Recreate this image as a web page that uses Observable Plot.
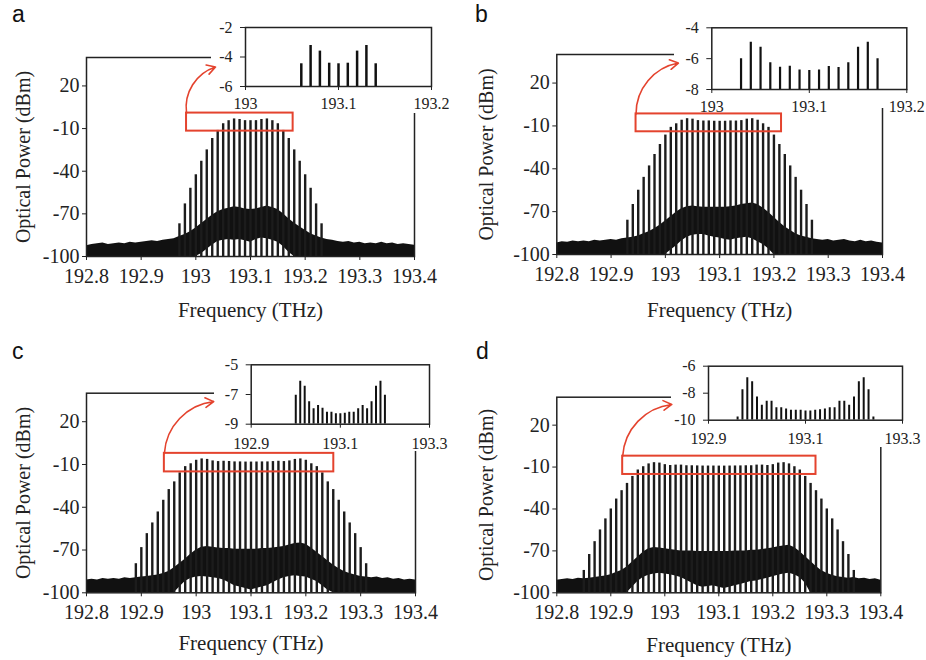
<!DOCTYPE html>
<html><head><meta charset="utf-8">
<script src="https://cdn.jsdelivr.net/npm/d3@7"></script>
<script src="https://cdn.jsdelivr.net/npm/@observablehq/plot@0.6"></script>
<style>
body{margin:0;background:#fff;}
#fig{position:relative;width:926px;height:660px;overflow:hidden;background:#fff;}
#fig svg{position:absolute;}
.lbl{position:absolute;font-family:"Liberation Sans",Arial,sans-serif;font-size:23px;line-height:26px;color:#111;}
</style></head><body><div id="fig"></div>
<script>
// ---------- shared axis data ----------
const xDomain = [192.8, 193.4];
const yDomain = [-100, 40];
const xTicks = [192.8, 192.9, 193, 193.1, 193.2, 193.3, 193.4];
const yTicks = [20, -10, -40, -70, -100];
const xTitle = "Frequency (THz)";
const yTitle = "Optical Power (dBm)";
const panelLetters = ["a", "b", "c", "d"];

const insetXDomainAB = [193, 193.2];
const insetXTicksAB = [193, 193.1, 193.2];
const insetXDomainCD = [192.9, 193.3];
const insetXTicksCD = [192.9, 193.1, 193.3];
const insetYDomainA = [-6, -2], insetYTicksA = [-2, -4, -6];
const insetYDomainB = [-8, -4], insetYTicksB = [-4, -6, -8];
const insetYDomainC = [-9, -5], insetYTicksC = [-5, -7, -9];
const insetYDomainD = [-10, -6], insetYTicksD = [-6, -8, -10];

// ---------- comb lines (frequency THz, power dBm) ----------
const combFreqA = [192.97,192.98,192.99,193.00,193.01,193.02,193.03,193.04,193.05,193.06,193.07,193.08,193.09,193.10,193.11,193.12,193.13,193.14,193.15,193.16,193.17,193.18,193.19,193.20,193.21,193.22,193.23];
const combPowA = [-77,-63,-52,-42.5,-33,-25,-17,-11.3,-6.6,-4.46,-3.22,-3.6,-4.42,-4.46,-4.42,-3.6,-3.22,-4.46,-6.6,-11.3,-17,-25,-33,-42.5,-52,-63,-77];

const combFreqB = [192.93,192.94,192.95,192.96,192.97,192.98,192.99,193.00,193.01,193.02,193.03,193.04,193.05,193.06,193.07,193.08,193.09,193.10,193.11,193.12,193.13,193.14,193.15,193.16,193.17,193.18,193.19,193.20,193.21,193.22,193.23,193.24,193.25,193.26,193.27];
const combPowB = [-76,-65,-55,-46,-38,-30,-23,-16.4,-11,-8.5,-6.01,-4.93,-5.26,-6.27,-6.56,-6.49,-6.73,-6.77,-6.73,-6.51,-6.58,-6.27,-5.26,-4.93,-6.01,-8.5,-11,-16.4,-23,-30,-38,-46,-55,-65,-76];

const combFreqC = [192.89,192.90,192.91,192.92,192.93,192.94,192.95,192.96,192.97,192.98,192.99,193.00,193.01,193.02,193.03,193.04,193.05,193.06,193.07,193.08,193.09,193.10,193.11,193.12,193.13,193.14,193.15,193.16,193.17,193.18,193.19,193.20,193.21,193.22,193.23,193.24,193.25,193.26,193.27,193.28,193.29,193.30,193.31];
const combPowC = [-79.6,-68.3,-58.5,-51,-43.3,-35.1,-27.6,-22.2,-15.9,-11.5,-9.5,-7.05,-6.10,-6.44,-7.49,-7.96,-7.74,-7.92,-8.19,-8.19,-8.30,-8.30,-8.26,-8.19,-8.19,-7.96,-7.74,-7.96,-7.49,-6.44,-6.10,-7.05,-9.5,-11.5,-15.9,-22.2,-27.6,-35.1,-43.3,-51,-58.5,-68.3,-79.6];

const combFreqD = [192.85,192.86,192.87,192.88,192.89,192.90,192.91,192.92,192.93,192.94,192.95,192.96,192.97,192.98,192.99,193.00,193.01,193.02,193.03,193.04,193.05,193.06,193.07,193.08,193.09,193.10,193.11,193.12,193.13,193.14,193.15,193.16,193.17,193.18,193.19,193.20,193.21,193.22,193.23,193.24,193.25,193.26,193.27,193.28,193.29,193.30,193.31,193.32,193.33,193.34,193.35];
const combPowD = [-84,-72.6,-63.4,-55,-47.1,-40,-32.9,-26.9,-21.7,-16.7,-12.1,-9.76,-7.74,-6.86,-7.15,-8.28,-8.90,-8.60,-8.60,-9.07,-9.08,-9.17,-9.27,-9.27,-9.27,-9.31,-9.31,-9.27,-9.22,-9.17,-9.08,-9.07,-8.60,-8.60,-8.90,-8.28,-7.15,-6.86,-7.74,-9.76,-12.1,-16.7,-21.7,-26.9,-32.9,-40,-47.1,-55,-63.4,-72.6,-84];

// ---------- noise floor: upper envelope (dBm) ----------
const noiseFreq = [192.80,192.81,192.82,192.83,192.84,192.85,192.86,192.87,192.88,192.89,192.90,192.91,192.92,192.93,192.94,192.95,192.96,192.97,192.98,192.99,193.00,193.01,193.02,193.03,193.04,193.05,193.06,193.07,193.08,193.09,193.10,193.11,193.12,193.13,193.14,193.15,193.16,193.17,193.18,193.19,193.20,193.21,193.22,193.23,193.24,193.25,193.26,193.27,193.28,193.29,193.30,193.31,193.32,193.33,193.34,193.35,193.36,193.37,193.38,193.39,193.40];
const noiseTopA = [-92.5,-91.5,-91,-90.5,-91.5,-91,-90.5,-91,-90,-90.5,-90,-89.5,-89,-89.5,-88.5,-88,-87.5,-86,-84.5,-82.5,-80,-77,-74,-71,-68.5,-67,-66,-65,-65.5,-66.5,-67,-66.5,-65.5,-64.5,-65.5,-67,-70,-73.5,-76.5,-79,-81.5,-84,-85.5,-87,-88,-88.5,-89.5,-90,-89.5,-90.5,-90,-91,-90.5,-91,-90,-91,-90.5,-91.5,-91,-91.5,-92];
const noiseTopB = [-92,-91,-91.5,-90.5,-91,-90.5,-91,-90,-90.5,-90,-89.5,-90,-89,-88.5,-88,-87,-85.5,-84,-82,-79.5,-76.5,-73.5,-70.5,-68,-66.5,-66,-66.5,-67,-67,-67,-67,-67,-66.5,-66,-65,-64.5,-64,-65,-67.5,-70.5,-74,-77.5,-80.5,-83,-85.5,-87,-88,-89,-89.5,-90,-89.5,-90.5,-90,-89.5,-90.5,-91,-90,-91,-90.5,-91.5,-92];
const noiseTopC = [-91,-90.5,-91,-90,-90.5,-90,-90.5,-89.5,-90,-89.5,-89,-88.5,-88,-87.5,-86.5,-85,-82.5,-79.5,-76.5,-73,-70,-68,-67.5,-68,-68.5,-69,-69,-69.5,-69.5,-69.5,-69.5,-69.5,-69,-69,-68.5,-68,-67.5,-66.5,-65.5,-65,-66,-68.5,-71.5,-74.5,-77.5,-80.5,-83,-85,-86.5,-87.5,-88.5,-89,-89.5,-89,-90,-89.5,-90.5,-90,-91,-90.5,-91];
const noiseTopD = [-91,-90.5,-90,-90.5,-89.5,-90,-89.5,-89,-88.5,-88,-87,-85.5,-84,-81.5,-78,-74.5,-71,-68.5,-67.5,-68,-68.5,-69,-69.5,-70,-70,-70,-70.5,-70.5,-70.5,-70.5,-70.5,-70.5,-70.5,-70,-70,-70,-69.5,-69.5,-69,-68.5,-68,-67,-66.5,-66,-67.5,-70.5,-74,-77.5,-81,-84,-86,-87.5,-88.5,-89,-89.5,-89,-90,-89.5,-90.5,-90,-91];

// ---------- white gaps under the noise plateau: top of gap (dBm) ----------
const holeFreqA = [193.00,193.01,193.02,193.03,193.04,193.05,193.06,193.07,193.08,193.09,193.10,193.11,193.12,193.13,193.14,193.15,193.16,193.17,193.18];
const holeTopA = [-100,-98,-95,-92,-89.5,-88.5,-88,-88.5,-88,-89,-90,-88,-87,-87.5,-88.5,-90,-93,-97,-100];
const holeFreqB = [193.00,193.01,193.02,193.03,193.04,193.05,193.06,193.07,193.08,193.09,193.10,193.11,193.12,193.13,193.14,193.15,193.16,193.17,193.18,193.19,193.20];
const holeTopB = [-100,-97,-94,-90.5,-88,-86.5,-86,-86,-87,-88,-88.5,-89.5,-90,-89,-88.5,-88,-89,-91,-93,-96,-100];
const holeFreqC = [192.96,192.97,192.98,192.99,193.00,193.01,193.02,193.03,193.04,193.05,193.06,193.07,193.08,193.09,193.10,193.11,193.12,193.13,193.14,193.15,193.16,193.17,193.18,193.19,193.20,193.21,193.22,193.23,193.24,193.25];
const holeTopC = [-100,-96,-92,-90,-89,-88.5,-89,-89.5,-90,-91,-93,-95,-96,-97,-98,-97,-96,-95,-93,-91,-89.5,-88.5,-88,-88.5,-89,-90.5,-92,-95,-98,-100];
const holeFreqD = [192.93,192.94,192.95,192.96,192.97,192.98,192.99,193.00,193.01,193.02,193.03,193.04,193.05,193.06,193.07,193.08,193.09,193.10,193.11,193.12,193.13,193.14,193.15,193.16,193.17,193.18,193.19,193.20,193.21,193.22,193.23,193.24,193.25,193.26,193.27];
const holeTopD = [-100,-96,-92,-89,-87.5,-86.5,-86,-86.5,-87,-88,-89,-91,-93,-95,-96,-95.5,-95,-96,-97,-96,-95,-94,-93,-92,-91.5,-90.5,-89.5,-88.5,-87.5,-86.5,-86,-87,-89,-93,-100];

// ---------- zoom box [f1, f2, p1, p2] and arrow [f1, p1, f2, p2] ----------
const zoomBoxA = [192.983, 193.178, 0.9, -11.8];
const zoomBoxB = [192.946, 193.214, -1.6, -14.1];
const zoomBoxC = [192.942, 193.251, -2.2, -15.2];
const zoomBoxD = [192.922, 193.28, -2.2, -15.3];
const arrowA = [192.983, 0.9, 193.036, 33.3];
const arrowB = [192.946, -1.6, 193.024, 34];
const arrowC = [192.942, -2.2, 193.032, 34.1];
const arrowD = [192.922, -2.2, 193.013, 34.8];

// ---------- drawing ----------
const SERIF = '"Liberation Serif", "Times New Roman", serif';
const RED = "#e4432e";
const fig = document.getElementById("fig");
function place(el, left, top) {
  el.style.left = left + "px";
  el.style.top = top + "px";
  fig.appendChild(el);
}
const zip = (fs, ps) => fs.map((f, i) => ({f, p: ps[i]}));

function drawPanel(c) {
  const W = 463, H = 330;
  const yFloor = yDomain[0];
  const comb = zip(c.combFreq, c.combPow);
  const noise = zip(noiseFreq, c.noiseTop);
  const hole = zip(c.holeFreq, c.holeTop);
  const [ml, mt, mr, mb] = c.m;

  const main = Plot.plot({
    width: W, height: H,
    marginLeft: ml, marginTop: mt, marginRight: mr, marginBottom: mb,
    x: {domain: xDomain, ticks: xTicks, tickFormat: d => String(d), tickSize: 4, tickPadding: 8, label: null},
    y: {domain: yDomain, ticks: yTicks, tickFormat: d => String(d), tickSize: 4, tickPadding: 3, label: null},
    style: {fontFamily: SERIF, fontSize: "20px", color: "#222", background: "transparent", overflow: "visible"},
    marks: [
      Plot.areaY(noise, {x: "f", y1: yFloor, y2: "p", fill: "#111"}),
      Plot.areaY(hole, {x: "f", y1: yFloor, y2: "p", fill: "#fff"}),
      Plot.ruleX(comb, {x: "f", y1: yFloor, y2: "p", stroke: "#1c1c1c", strokeWidth: 2.4}),
      Plot.frame({stroke: "#222", strokeWidth: 1.5}),
      Plot.text([xTitle], {frameAnchor: "bottom", lineAnchor: "middle", dy: c.xTitleDy, fontSize: 21, fill: "#222"}),
      Plot.text([yTitle], {frameAnchor: "left", textAnchor: "middle", lineAnchor: "middle", dx: c.yTitleDx, rotate: -90, fontSize: 20, fill: "#222"})
    ]
  });
  place(main, c.ox, c.oy);

  const [il, it, iw, ih, iml, imt, imr, imb] = c.inset;
  const yMin = c.insetY[0];
  const inset = Plot.plot({
    width: iw, height: ih,
    marginLeft: iml, marginTop: imt, marginRight: imr, marginBottom: imb,
    x: {domain: c.insetX, ticks: c.insetXTicks, tickFormat: d => String(d), tickSize: 4, tickPadding: c.insetPad, label: null},
    y: {domain: c.insetY, ticks: c.insetYTicks, tickFormat: d => String(d), tickSize: 5, tickPadding: 8, label: null},
    style: {fontFamily: SERIF, fontSize: "16px", color: "#222", background: "#fff", overflow: "visible"},
    marks: [
      Plot.ruleX(comb.filter(d => d.p > yMin), {x: "f", y1: yMin, y2: "p", stroke: "#111", strokeWidth: c.barW, clip: true}),
      Plot.frame({stroke: "#222", strokeWidth: 1.5})
    ]
  });
  place(inset, c.ox + il, c.oy + it);

  const b = c.box, a = c.arrow;
  const over = Plot.plot({
    width: W, height: H,
    marginLeft: ml, marginTop: mt, marginRight: mr, marginBottom: mb,
    x: {domain: xDomain, axis: null},
    y: {domain: yDomain, axis: null},
    style: {background: "transparent", overflow: "visible"},
    marks: [
      Plot.rect([b], {x1: d => d[0], x2: d => d[1], y1: d => d[2], y2: d => d[3], fill: "none", stroke: RED, strokeWidth: 2}),
      Plot.arrow([a], {x1: d => d[0], y1: d => d[1], x2: d => d[2], y2: d => d[3], bend: 40, stroke: RED, strokeWidth: 1.6, headLength: 9})
    ]
  });
  place(over, c.ox, c.oy);

  const lbl = document.createElement("div");
  lbl.className = "lbl";
  lbl.textContent = c.letter;
  place(lbl, c.ox + c.letterPos[0], c.oy + c.letterPos[1]);
}

drawPanel({ox: 0, oy: 0, m: [86, 57, 49, 74], xTitleDy: 54, yTitleDx: -63,
  combFreq: combFreqA, combPow: combPowA, noiseTop: noiseTopA, holeFreq: holeFreqA, holeTop: holeTopA,
  inset: [211, 14, 230, 99, 34, 13, 10, 27], insetX: insetXDomainAB, insetXTicks: insetXTicksAB,
  insetY: insetYDomainA, insetYTicks: insetYTicksA, insetPad: 7, barW: 2.5,
  box: zoomBoxA, arrow: arrowA, letter: panelLetters[0], letterPos: [12, 1]});

drawPanel({ox: 463, oy: 0, m: [93.3, 54, 44, 76], xTitleDy: 56, yTitleDx: -70,
  combFreq: combFreqB, combPow: combPowB, noiseTop: noiseTopB, holeFreq: holeFreqB, holeTop: holeTopB,
  inset: [211, 14, 241, 94, 37.3, 13.3, 8.7, 19], insetX: insetXDomainAB, insetXTicks: insetXTicksAB,
  insetY: insetYDomainB, insetYTicks: insetYTicksB, insetPad: 7, barW: 2.2,
  box: zoomBoxB, arrow: arrowB, letter: panelLetters[1], letterPos: [12, 1]});

drawPanel({ox: 0, oy: 330, m: [86, 62.7, 48, 67.7], xTitleDy: 50, yTitleDx: -63,
  combFreq: combFreqC, combPow: combPowC, noiseTop: noiseTopC, holeFreq: holeFreqC, holeTop: holeTopC,
  inset: [214, 20, 226, 101, 36.7, 14.3, 11, 27.3], insetX: insetXDomainCD, insetXTicks: insetXTicksCD,
  insetY: insetYDomainC, insetYTicks: insetYTicksC, insetPad: 9, barW: 2,
  box: zoomBoxC, arrow: arrowC, letter: panelLetters[2], letterPos: [12, 8]});

drawPanel({ox: 463, oy: 330, m: [93.3, 66.7, 45.7, 67.7], xTitleDy: 52, yTitleDx: -70,
  combFreq: combFreqD, combPow: combPowD, noiseTop: noiseTopD, holeFreq: holeFreqD, holeTop: holeTopD,
  inset: [208, 20, 242, 97, 37, 15.7, 11, 27.3], insetX: insetXDomainCD, insetXTicks: insetXTicksCD,
  insetY: insetYDomainD, insetYTicks: insetYTicksD, insetPad: 8, barW: 2,
  box: zoomBoxD, arrow: arrowD, letter: panelLetters[3], letterPos: [13, 8]});
</script>
</body></html>
